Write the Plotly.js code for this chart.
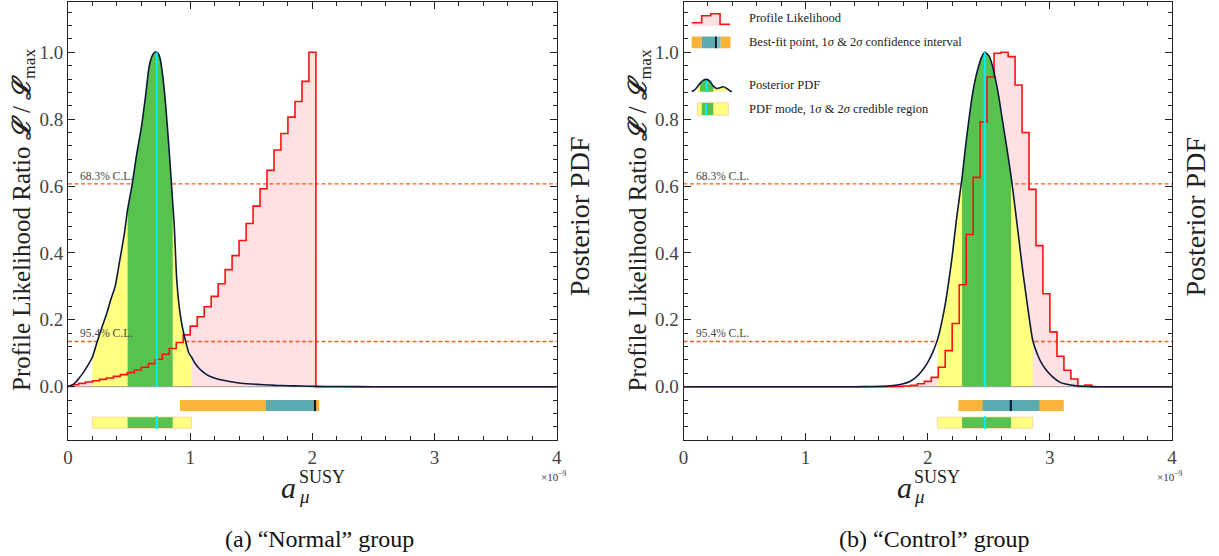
<!DOCTYPE html>
<html><head><meta charset="utf-8">
<script src="https://cdn.plot.ly/plotly-3.0.1.min.js"></script>
<style>html,body{margin:0;padding:0;background:#fff;}#chart{width:1219px;height:556px;}</style>
</head><body><div id="chart"></div>
<script>
// ---------------- data ----------------
const binEdges = [0.029,0.086,0.143,0.200,0.257,0.314,0.372,0.429,0.486,0.543,0.600,0.658,0.715,0.772,0.829,0.886,0.943,1.000,1.058,1.115,1.172,1.229,1.286,1.343,1.400,1.458,1.515,1.572,1.629,1.686,1.743,1.800,1.858,1.915,1.972,2.029,2.086,2.143,2.200,2.258,2.315,2.372,2.429,2.486,2.543,2.600,2.658,2.715,2.772,2.829,2.886,2.943,3.000,3.058,3.115,3.172,3.229,3.286,3.343,3.400,3.458];
const likeNormal = [0.003,0.006,0.010,0.014,0.018,0.022,0.026,0.031,0.036,0.042,0.050,0.058,0.069,0.082,0.097,0.114,0.132,0.155,0.181,0.209,0.239,0.270,0.308,0.350,0.392,0.437,0.488,0.540,0.592,0.647,0.708,0.757,0.806,0.853,0.913,1.000];
const likeControl = [0,0,0,0,0,0,0,0,0,0,0,0,0,0,0,0,0,0,0,0,0,0,0,0,0,0,0,0,0,0,0,0.001,0.002,0.004,0.009,0.016,0.028,0.058,0.108,0.189,0.305,0.455,0.626,0.792,0.926,0.997,1.000,0.987,0.902,0.760,0.590,0.422,0.278,0.164,0.091,0.049,0.023,0.001,0.005,0];
const pdfNormalX = [0,0.03,0.06,0.09,0.125,0.16,0.199,0.235,0.275,0.317,0.35,0.386,0.42,0.46,0.488,0.523,0.56,0.601,0.635,0.664,0.69,0.71,0.726,0.74,0.755,0.775,0.795,0.815,0.835,0.857,0.87,0.89,0.91,0.93,0.95,0.97,0.99,1.012,1.04,1.08,1.12,1.16,1.23,1.3,1.4,1.5,1.6,1.7,1.8,1.9,2.03,2.2,2.5,4];
const pdfNormalY = [0,0.004,0.012,0.025,0.042,0.062,0.088,0.13,0.175,0.219,0.26,0.3,0.37,0.455,0.53,0.6,0.69,0.777,0.87,0.957,0.99,1.0,1.0,0.995,0.98,0.93,0.86,0.77,0.67,0.55,0.48,0.32,0.24,0.19,0.155,0.125,0.1,0.088,0.07,0.052,0.04,0.031,0.022,0.017,0.011,0.008,0.006,0.004,0.003,0.002,0.001,0.0005,0,0];
const pdfControlX = [0,1.0,1.4,1.55,1.67,1.75,1.8,1.85,1.9,1.95,2.0,2.04,2.079,2.11,2.14,2.17,2.2,2.235,2.281,2.31,2.334,2.36,2.384,2.41,2.44,2.467,2.5,2.53,2.56,2.585,2.61,2.645,2.682,2.72,2.75,2.78,2.81,2.835,2.86,2.9,2.94,2.97,3.02,3.084,3.13,3.17,3.23,3.3,3.4,3.6,4];
const pdfControlY = [0,0,0,0.0005,0.002,0.005,0.009,0.015,0.027,0.046,0.073,0.102,0.14,0.185,0.24,0.31,0.39,0.5,0.625,0.72,0.79,0.86,0.91,0.95,0.985,1.0,0.99,0.96,0.91,0.86,0.8,0.72,0.63,0.52,0.43,0.34,0.26,0.195,0.138,0.095,0.065,0.05,0.03,0.013,0.008,0.005,0.002,0.0007,0,0,0];
const clLevels = [0.6065, 0.1353];
const clLabels = ['68.3% C.L.', '95.4% C.L.'];
const normalConf2 = [0.917, 2.056], normalConf1 = [1.62, 2.02], normalBest = 2.022;
const normalCred2 = [0.199, 1.012], normalCred1 = [0.488, 0.857], normalMode = 0.726;
const controlConf2 = [2.251, 3.114], controlConf1 = [2.45, 2.914], controlBest = 2.68;
const controlCred2 = [2.079, 2.86], controlCred1 = [2.281, 2.682], controlMode = 2.467;
const xTickVals = [0,1,2,3,4], xTickText = ['0','1','2','3','4'];
const yTickVals = [0,0.2,0.4,0.6,0.8,1.0], yTickText = ['0.0','0.2','0.4','0.6','0.8','1.0'];
const captions = ['(a) “Normal” group', '(b) “Control” group'];
const legendLabels = ['Profile Likelihood', 'Best-fit point, 1<i>σ</i> &amp; 2<i>σ</i> confidence interval', 'Posterior PDF', 'PDF mode, 1<i>σ</i> &amp; 2<i>σ</i> credible region'];

// ---------------- style ----------------
const W = 1219, H = 556;
const SERIF = 'Liberation Serif';
const C = {pink:'#ffe1e4', red:'#ff1010', navy:'#0c1a3a', cyan:'#00f0ff', yellow:'#ffff80', green:'#58c24e',
           orange:'#f9b53a', teal:'#5aabb0', dash:'#ff5a10', axis:'#222'};
const OFF = 615.5; // pixel offset between panels

const traces = [], shapes = [], annotations = [];

function panel(i, like, pdfX, pdfY, conf2, conf1, best, cred2, cred1, mode) {
  const xa = i === 0 ? 'x' : 'x2', ya = i === 0 ? 'y' : 'y2';
  const nb = like.length;
  const stepX = [0].concat(binEdges.slice(0, nb - 1)).concat([binEdges[nb - 1], 4]);
  const stepY = like.concat([0, 0]);
  const base = {xaxis: xa, yaxis: ya, mode: 'lines', hoverinfo: 'skip', showlegend: false};
  traces.push(Object.assign({}, base, {x: stepX, y: stepY, line: {shape: 'hv', width: 0, color: 'rgba(0,0,0,0)'}, fill: 'tozeroy', fillcolor: C.pink}));
  clLevels.forEach(l => traces.push(Object.assign({}, base, {x: [0, 4], y: [l, l], line: {color: C.dash, width: 1.4, dash: '4px,2.5px'}})));
  function slice(lo, hi) {
    const xs = [], ys = [];
    pdfX.forEach((v, k) => { if (v >= lo - 1e-9 && v <= hi + 1e-9) { xs.push(v); ys.push(pdfY[k]); } });
    return {xs, ys};
  }
  const s2 = slice(cred2[0], cred2[1]), s1 = slice(cred1[0], cred1[1]);
  traces.push(Object.assign({}, base, {x: s2.xs, y: s2.ys, line: {width: 0, shape: 'spline', smoothing: 0.6, color: 'rgba(0,0,0,0)'}, fill: 'tozeroy', fillcolor: C.yellow}));
  traces.push(Object.assign({}, base, {x: s1.xs, y: s1.ys, line: {width: 0, shape: 'spline', smoothing: 0.6, color: 'rgba(0,0,0,0)'}, fill: 'tozeroy', fillcolor: C.green}));
  traces.push(Object.assign({}, base, {x: [0, 4], y: [0, 0], line: {color: '#999', width: 1}}));
  traces.push(Object.assign({}, base, {x: stepX, y: stepY, line: {shape: 'hv', color: C.red, width: 1.6}}));
  traces.push(Object.assign({}, base, {x: pdfX, y: pdfY, line: {color: C.navy, width: 1.6, shape: 'spline', smoothing: 0.6}}));
  const peak = pdfY[pdfX.indexOf(mode)];
  traces.push(Object.assign({}, base, {x: [mode, mode], y: [0, peak], line: {color: C.cyan, width: 2}}));

  // interval bars
  const r = (x0, x1, y0, y1, fill, lc) => shapes.push({type: 'rect', xref: xa, yref: ya, x0, x1, y0, y1, fillcolor: fill, line: {width: lc ? 1 : 0, color: lc || 'rgba(0,0,0,0)'}, layer: 'above'});
  const ln = (x, y0, y1, color, w) => shapes.push({type: 'line', xref: xa, yref: ya, x0: x, x1: x, y0, y1, line: {color, width: w}, layer: 'above'});
  r(conf2[0], conf2[1], -0.073, -0.040, C.orange, null);
  r(conf1[0], conf1[1], -0.073, -0.040, C.teal, null);
  ln(best, -0.073, -0.040, C.navy, 2.2);
  r(cred2[0], cred2[1], -0.124, -0.091, C.yellow, '#f9d8a0');
  r(cred1[0], cred1[1], -0.1235, -0.0915, C.green, null);
  ln(mode, -0.127, -0.088, C.cyan, 2);

  // C.L. labels
  annotations.push({xref: xa, yref: ya, x: 0.085, y: 0.630, text: clLabels[0], showarrow: false, xanchor: 'left', yanchor: 'middle', font: {family: SERIF, size: 11.5, color: '#444'}});
  annotations.push({xref: xa, yref: ya, x: 0.085, y: 0.162, text: clLabels[1], showarrow: false, xanchor: 'left', yanchor: 'middle', font: {family: SERIF, size: 11.5, color: '#444'}});

  // titles (paper coords)
  const o = i * OFF;
  const P = (x, y) => ({xref: 'paper', yref: 'paper', x: x / W, y: 1 - y / H, showarrow: false});
  annotations.push(Object.assign(P(23 + o, 220), {text: 'Profile Likelihood Ratio <b><i>ℒ</i></b> / <b><i>ℒ</i></b><sub>max</sub>', textangle: -90, xanchor: 'center', yanchor: 'middle', font: {family: SERIF, size: 25, color: '#222'}}));
  annotations.push(Object.assign(P(579 + o, 217), {text: 'Posterior PDF', textangle: -90, xanchor: 'center', yanchor: 'middle', font: {family: SERIF, size: 28, color: '#222'}}));
  annotations.push(Object.assign(P(288.5 + o, 487), {text: '<i>a</i>', xanchor: 'center', yanchor: 'middle', font: {family: SERIF, size: 30, color: '#222'}}));
  annotations.push(Object.assign(P(297 + o, 477), {text: 'SUSY', xanchor: 'left', yanchor: 'middle', font: {family: SERIF, size: 18, color: '#222'}}));
  annotations.push(Object.assign(P(297 + o, 496), {text: '<i>μ</i>', xanchor: 'left', yanchor: 'middle', font: {family: SERIF, size: 19, color: '#222'}}));
  annotations.push(Object.assign(P(569 + o, 476), {text: '×10<sup>−9</sup>', xanchor: 'right', yanchor: 'middle', font: {family: SERIF, size: 11, color: '#333'}}));
  annotations.push(Object.assign(P(319 + o, 539), {text: captions[i], xanchor: 'center', yanchor: 'middle', font: {family: SERIF, size: 24, color: '#111'}}));
}

panel(0, likeNormal, pdfNormalX, pdfNormalY, normalConf2, normalConf1, normalBest, normalCred2, normalCred1, normalMode);
panel(1, likeControl, pdfControlX, pdfControlY, controlConf2, controlConf1, controlBest, controlCred2, controlCred1, controlMode);

// ---------------- legend (right panel, drawn by hand) ----------------
const L = {xref: 'x2', yref: 'y2', layer: 'above'};
shapes.push(Object.assign({}, L, {type: 'path', path: 'M0.067,1.0786 L0.067,1.0885 L0.149,1.0885 L0.149,1.1095 L0.223,1.1095 L0.223,1.1154 L0.299,1.1154 L0.299,1.0837 L0.381,1.0837 L0.381,1.0786 Z', fillcolor: C.pink, line: {width: 0}}));
shapes.push(Object.assign({}, L, {type: 'path', path: 'M0.067,1.0885 L0.149,1.0885 L0.149,1.1095 L0.223,1.1095 L0.223,1.1154 L0.299,1.1154 L0.299,1.0837 L0.381,1.0837', fillcolor: 'rgba(0,0,0,0)', line: {color: C.red, width: 1.6}}));
[[0.067, 0.149, C.orange], [0.149, 0.258, C.teal], [0.258, 0.274, C.navy], [0.274, 0.305, '#7cc0c4'], [0.305, 0.385, C.orange]].forEach(s =>
  shapes.push(Object.assign({}, L, {type: 'rect', x0: s[0], x1: s[1], y0: 1.012, y1: 1.047, fillcolor: s[2], line: {width: 0}})));
const iconX = [0.067,0.09,0.11,0.135,0.16,0.19,0.215,0.244,0.272,0.3,0.326,0.354,0.375,0.395];
const iconY = [0.883,0.887,0.895,0.907,0.916,0.919,0.914,0.899,0.892,0.894,0.897,0.892,0.886,0.882];
function iconPoly(lo, hi) {
  const xs = [], ys = [];
  iconX.forEach((v, k) => { if (v >= lo && v <= hi) { xs.push(v); ys.push(iconY[k]); } });
  return {x: [xs[0]].concat(xs).concat([xs[xs.length - 1]]), y: [0.882].concat(ys).concat([0.882])};
}
const pyl = iconPoly(0.11, 0.354), pg = iconPoly(0.135, 0.244);
traces.push({xaxis: 'x2', yaxis: 'y2', x: pyl.x, y: pyl.y, mode: 'lines', fill: 'toself', fillcolor: C.yellow, line: {width: 0, color: 'rgba(0,0,0,0)'}, hoverinfo: 'skip', showlegend: false});
traces.push({xaxis: 'x2', yaxis: 'y2', x: pg.x, y: pg.y, mode: 'lines', fill: 'toself', fillcolor: C.green, line: {width: 0, color: 'rgba(0,0,0,0)'}, hoverinfo: 'skip', showlegend: false});
traces.push({xaxis: 'x2', yaxis: 'y2', x: [0.19, 0.19], y: [0.882, 0.919], mode: 'lines', line: {color: C.cyan, width: 2}, hoverinfo: 'skip', showlegend: false});
traces.push({xaxis: 'x2', yaxis: 'y2', x: iconX, y: iconY, mode: 'lines', line: {color: C.navy, width: 1.6, shape: 'spline'}, hoverinfo: 'skip', showlegend: false});
shapes.push(Object.assign({}, L, {type: 'rect', x0: 0.113, x1: 0.367, y0: 0.812, y1: 0.849, fillcolor: C.yellow, line: {width: 1, color: '#f9d8a0'}}));
shapes.push(Object.assign({}, L, {type: 'rect', x0: 0.149, x1: 0.244, y0: 0.8125, y1: 0.8485, fillcolor: C.green, line: {width: 0}}));
shapes.push(Object.assign({}, L, {type: 'line', x0: 0.184, x1: 0.184, y0: 0.812, y1: 0.849, line: {color: C.cyan, width: 2}}));
[1.102, 1.030, 0.902, 0.830].forEach((y, k) => annotations.push({xref: 'x2', yref: 'y2', x: 0.523, y, text: legendLabels[k], showarrow: false, xanchor: 'left', yanchor: 'middle', font: {family: SERIF, size: 12.5, color: '#222'}}));

// ---------------- axes ----------------
const xdomL = [68 / W, 556.7 / W], xdomR = [683.5 / W, 1172 / W], ydom = [1 - 440 / H, 1 - 1.7 / H];
const tickfont = {family: SERIF, size: 19, color: '#444'};
function xax(dom, anchor) {
  return {domain: dom, anchor, range: [0, 4], tickmode: 'array', tickvals: xTickVals, ticktext: xTickText, ticks: 'inside', ticklen: 7, tickwidth: 1, tickcolor: C.axis,
    showline: true, linecolor: C.axis, linewidth: 1, mirror: 'ticks', showgrid: false, zeroline: false, tickfont, fixedrange: true,
    minor: {tickmode: 'linear', tick0: 0, dtick: 0.2, ticks: 'inside', ticklen: 4, tickwidth: 1, tickcolor: C.axis, showgrid: false}};
}
function yax(anchor) {
  return {domain: ydom, anchor, range: [-0.1594, 1.1513], tickmode: 'array', tickvals: yTickVals, ticktext: yTickText, ticks: 'inside', ticklen: 7, tickwidth: 1, tickcolor: C.axis,
    showline: true, linecolor: C.axis, linewidth: 1, mirror: 'ticks', showgrid: false, zeroline: false, tickfont, fixedrange: true,
    minor: {tickmode: 'linear', tick0: 0, dtick: 0.04, ticks: 'inside', ticklen: 4, tickwidth: 1, tickcolor: C.axis, showgrid: false}};
}
const layout = {
  width: W, height: H, autosize: false, margin: {l: 0, r: 0, t: 0, b: 0}, paper_bgcolor: '#fff', plot_bgcolor: '#fff', showlegend: false,
  xaxis: xax(xdomL, 'y'), yaxis: yax('x'), xaxis2: xax(xdomR, 'y2'), yaxis2: yax('x2'),
  shapes, annotations
};
Plotly.newPlot('chart', traces, layout, {displayModeBar: false, staticPlot: true});
</script></body></html>
